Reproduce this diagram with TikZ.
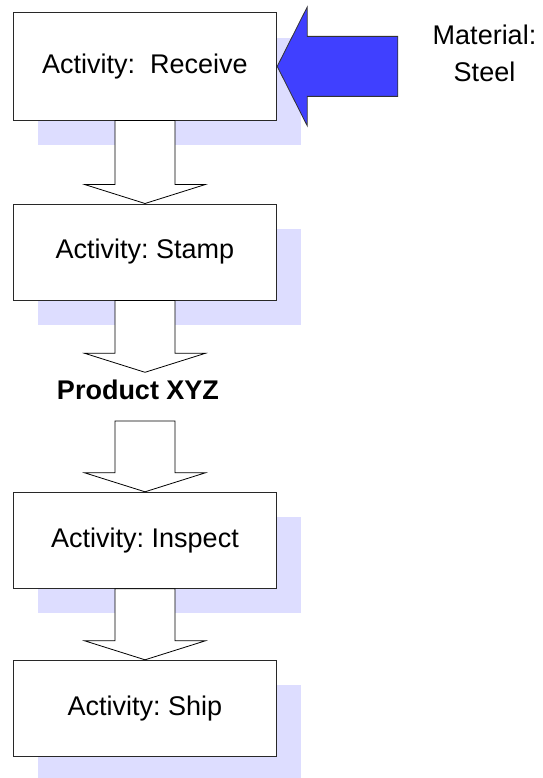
\documentclass[tikz,border=0pt]{standalone}
\usepackage{fontspec}
\setmainfont{Liberation Sans}
\usetikzlibrary{calc,shadows}
\definecolor{shadowcol}{RGB}{221,221,255}
\definecolor{flowblue}{RGB}{64,64,255}
\definecolor{edgecol}{RGB}{40,40,40}
\tikzset{
  activity/.style={draw=edgecol, line width=1pt, fill=white, rectangle,
    minimum width=263.4pt, minimum height=96pt, inner sep=0pt,
    font=\fontsize{27}{32}\selectfont,
    drop shadow={shadow xshift=24.4pt, shadow yshift=-25pt, fill=shadowcol, opacity=1}},
  blockarrow/.style={draw=black, line width=0.8pt, fill=white, line join=miter},
  inputarrow/.style={draw=black!80, line width=0.8pt, fill=flowblue, line join=miter},
  label/.style={font=\fontsize{27}{36.7}\selectfont, inner sep=0pt},
}
% hollow down arrow from point #1 (shaft start) to point #2 (tip)
\newcommand\downblock[2]{%
  \draw[blockarrow] let \p1=(#1), \p2=(#2) in
    (\x1-30pt,\y1) -- (\x1-30pt,\y2+19pt) -- (\x1-60.35pt,\y2+19pt) -- (\x1,\y2)
    -- (\x1+60.35pt,\y2+19pt) -- (\x1+30pt,\y2+19pt) -- (\x1+30pt,\y1) -- cycle;}
\frenchspacing
\begin{document}
\begin{tikzpicture}[x=1pt,y=1pt]
  \useasboundingbox (0,0) rectangle (542,-778);

  % activity boxes
  \node[activity, minimum height=107.3pt] (receive) at (145,-66.4) {Activity:~ Receive};
  \node[activity] (stamp)   at (145,-252)   {Activity: Stamp};
  \node[activity] (inspect) at (145,-540.3) {Activity: Inspect};
  \node[activity] (ship)    at (145,-708.3) {Activity: Ship};

  % intermediate product label
  \node[label, font=\fontsize{27}{32}\selectfont\bfseries, anchor=base,
        text height=26.5pt, text depth=21.7pt] (product) at (138,-399) {Product XYZ};

  % incoming material label
  \node[label, align=center] (material) at (484.5,-53.5) {Material:\\Steel};

  % flow arrows between activities
  \downblock{receive.south}{stamp.north}
  \downblock{stamp.south}{stamp.south |- product.north}
  \downblock{inspect.north |- product.south}{inspect.north}
  \downblock{inspect.south}{ship.north}

  % material input arrow into the receive step
  \draw[inputarrow] let \p1=(receive.east) in
    (\x1,\y1) -- (\x1+30pt,\y1+59.35pt) -- (\x1+30pt,\y1+30pt) -- (\x1+120.6pt,\y1+30pt)
    -- (\x1+120.6pt,\y1-30pt) -- (\x1+30pt,\y1-30pt) -- (\x1+30pt,\y1-59.35pt) -- cycle;
\end{tikzpicture}
\end{document}
